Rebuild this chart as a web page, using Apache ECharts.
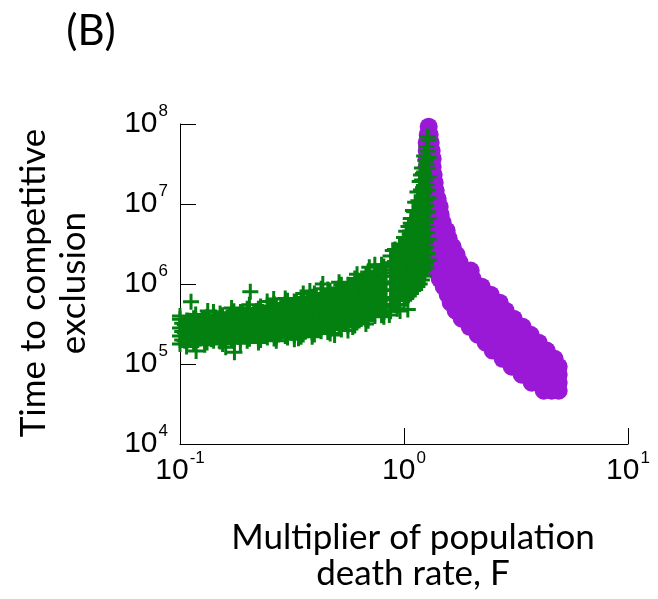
<!DOCTYPE html>
<html>
<head>
<meta charset="utf-8">
<script src="https://cdn.jsdelivr.net/npm/echarts@6/dist/echarts.min.js"></script>
<style>
  html, body { margin: 0; padding: 0; background: #fff; }
  #chart { width: 658px; height: 599px; }
</style>
</head>
<body>
<div id="chart"></div>
<script>
// Time to competitive exclusion vs. death-rate multiplier F (log-log)

const panelLabel = '(B)';
const xTitle = ['Multiplier of population', 'death rate, F'];
const yTitle = ['Time to competitive', 'exclusion'];
const xTickExps = [-1, 0, 1];
const yTickExps = [4, 5, 6, 7, 8];

// Runs where F is below the crossover (plus markers): [F, time]
const belowCrossover = [
  [0.100, 1.78e5], [0.100, 2.24e5], [0.100, 2.82e5], [0.100, 3.63e5],
  [0.105, 1.95e5], [0.105, 2.45e5], [0.105, 3.09e5],
  [0.110, 2.14e5], [0.110, 2.69e5], [0.110, 3.47e5],
  [0.115, 1.82e5], [0.115, 2.29e5], [0.115, 2.88e5], [0.115, 3.72e5],
  [0.120, 2.00e5], [0.120, 2.51e5], [0.120, 3.24e5],
  [0.126, 2.19e5], [0.126, 2.75e5], [0.126, 3.55e5],
  [0.132, 1.86e5], [0.132, 2.40e5], [0.132, 3.02e5], [0.132, 3.89e5],
  [0.138, 2.04e5], [0.138, 2.63e5], [0.138, 3.39e5],
  [0.1445, 2.24e5], [0.1445, 2.95e5], [0.1445, 3.80e5],
  [0.151, 1.91e5], [0.151, 2.51e5], [0.151, 3.24e5], [0.151, 4.27e5],
  [0.1585, 2.09e5], [0.1585, 2.75e5], [0.1585, 3.63e5],
  [0.166, 2.29e5], [0.166, 3.02e5], [0.166, 4.07e5],
  [0.174, 1.95e5], [0.174, 2.57e5], [0.174, 3.39e5], [0.174, 4.57e5],
  [0.182, 2.19e5], [0.182, 2.88e5], [0.182, 3.89e5],
  [0.1905, 2.40e5], [0.1905, 3.16e5], [0.1905, 4.37e5],
  [0.1995, 1.95e5], [0.1995, 2.63e5], [0.1995, 3.55e5], [0.1995, 4.90e5],
  [0.209, 2.24e5], [0.209, 3.02e5], [0.209, 4.07e5],
  [0.219, 2.45e5], [0.219, 3.39e5], [0.219, 4.57e5],
  [0.229, 2.00e5], [0.229, 2.75e5], [0.229, 3.80e5], [0.229, 5.25e5],
  [0.240, 2.29e5], [0.240, 3.16e5], [0.240, 4.37e5],
  [0.251, 2.51e5], [0.251, 3.55e5], [0.251, 4.90e5],
  [0.263, 2.09e5], [0.263, 2.88e5], [0.263, 3.98e5], [0.263, 5.62e5],
  [0.275, 2.34e5], [0.275, 3.31e5], [0.275, 4.57e5],
  [0.288, 2.69e5], [0.288, 3.72e5], [0.288, 5.25e5],
  [0.302, 2.14e5], [0.302, 3.02e5], [0.302, 4.27e5], [0.302, 6.17e5],
  [0.316, 2.45e5], [0.316, 3.47e5], [0.316, 5.01e5],
  [0.331, 2.82e5], [0.331, 3.98e5], [0.331, 5.89e5],
  [0.347, 2.19e5], [0.347, 3.16e5], [0.347, 4.57e5], [0.347, 6.76e5],
  [0.363, 2.57e5], [0.363, 3.80e5], [0.363, 5.50e5],
  [0.380, 2.95e5], [0.380, 4.37e5], [0.380, 6.46e5],
  [0.398, 2.34e5], [0.398, 3.47e5], [0.398, 5.13e5], [0.398, 7.59e5],
  [0.417, 2.75e5], [0.417, 4.07e5], [0.417, 6.17e5],
  [0.4365, 3.16e5], [0.4365, 4.79e5], [0.4365, 7.08e5],
  [0.457, 2.51e5], [0.457, 3.72e5], [0.457, 5.62e5], [0.457, 8.51e5],
  [0.479, 2.95e5], [0.479, 4.47e5], [0.479, 6.76e5],
  [0.501, 3.47e5], [0.501, 5.25e5], [0.501, 8.13e5],
  [0.525, 2.69e5], [0.525, 4.17e5], [0.525, 6.31e5], [0.525, 9.77e5],
  [0.5495, 3.24e5], [0.5495, 5.01e5], [0.5495, 7.59e5],
  [0.575, 3.89e5], [0.575, 6.03e5], [0.575, 9.55e5],
  [0.603, 3.02e5], [0.603, 4.79e5], [0.603, 7.41e5], [0.603, 1.17e6],
  [0.631, 3.72e5], [0.631, 5.89e5], [0.631, 9.12e5],
  [0.661, 4.47e5], [0.661, 7.08e5], [0.661, 1.12e6],
  [0.692, 3.47e5], [0.692, 5.50e5], [0.692, 8.71e5], [0.692, 1.41e6],
  [0.724, 4.27e5], [0.724, 6.92e5], [0.724, 1.10e6],
  [0.759, 5.25e5], [0.759, 8.51e5], [0.759, 1.38e6],
  [0.794, 4.07e5], [0.794, 6.61e5], [0.794, 1.07e6], [0.794, 1.74e6],
  [0.832, 5.13e5], [0.832, 8.32e5], [0.832, 1.38e6],
  [0.871, 4.57e5], [0.871, 6.76e5], [0.871, 1.00e6], [0.871, 1.51e6], [0.871, 2.24e6],
  [0.890, 5.60e5], [0.890, 8.50e5], [0.890, 1.25e6], [0.890, 1.85e6],
  [0.912, 5.50e5], [0.912, 8.32e5], [0.912, 1.26e6], [0.912, 1.91e6], [0.912, 2.69e6],
  [0.935, 6.50e5], [0.935, 1.00e6], [0.935, 1.60e6], [0.935, 2.30e6],
  [0.955, 5.50e5], [0.955, 8.51e5], [0.955, 1.32e6], [0.955, 2.04e6], [0.955, 3.16e6],
  [0.980, 7.50e5], [0.980, 1.20e6], [0.980, 1.90e6], [0.980, 3.00e6],
  [1.000, 6.31e5], [1.000, 1.00e6], [1.000, 1.58e6], [1.000, 2.51e6], [1.000, 3.80e6],
  [1.023, 6.61e5], [1.023, 1.10e6], [1.023, 1.82e6], [1.023, 2.88e6], [1.023, 4.57e6],
  [1.035, 8.60e5], [1.035, 1.40e6], [1.035, 2.30e6], [1.035, 3.70e6],
  [1.047, 7.24e5], [1.047, 1.20e6], [1.047, 2.00e6], [1.047, 3.31e6], [1.047, 5.25e6],
  [1.060, 9.60e5], [1.060, 1.60e6], [1.060, 2.60e6], [1.060, 4.20e6],
  [1.072, 7.59e5], [1.072, 1.26e6], [1.072, 2.09e6], [1.072, 3.47e6], [1.072, 5.75e6], [1.072, 6.61e6],
  [1.096, 8.32e5], [1.096, 1.32e6], [1.096, 2.09e6], [1.096, 3.31e6], [1.096, 5.25e6], [1.096, 8.32e6],
  [1.110, 1.10e6], [1.110, 1.90e6], [1.110, 3.00e6], [1.110, 5.00e6], [1.110, 8.00e6],
  [1.122, 8.51e5], [1.122, 1.38e6], [1.122, 2.29e6], [1.122, 3.80e6], [1.122, 6.31e6], [1.122, 1.05e7],
  [1.148, 9.33e5], [1.148, 1.58e6], [1.148, 2.75e6], [1.148, 4.79e6], [1.148, 8.32e6], [1.148, 1.41e7],
  [1.160, 1.20e6], [1.160, 2.10e6], [1.160, 3.70e6], [1.160, 6.40e6], [1.160, 1.10e7],
  [1.175, 1.00e6], [1.175, 1.74e6], [1.175, 3.16e6], [1.175, 5.75e6], [1.175, 1.05e7], [1.175, 1.91e7],
  [1.190, 1.40e6], [1.190, 2.50e6], [1.190, 4.40e6], [1.190, 8.00e6], [1.190, 1.50e7], [1.190, 2.30e7],
  [1.202, 1.12e6], [1.202, 2.00e6], [1.202, 3.63e6], [1.202, 6.61e6], [1.202, 1.20e7], [1.202, 2.00e7], [1.202, 2.82e7],
  [1.216, 1.50e6], [1.216, 2.70e6], [1.216, 4.90e6], [1.216, 9.00e6], [1.216, 1.60e7], [1.216, 2.40e7],
  [1.230, 1.26e6], [1.230, 2.29e6], [1.230, 4.17e6], [1.230, 7.59e6], [1.230, 1.38e7], [1.230, 2.51e7], [1.230, 3.98e7],
  [1.245, 1.80e6], [1.245, 3.30e6], [1.245, 6.00e6], [1.245, 1.10e7], [1.245, 2.00e7], [1.245, 3.50e7],
  [1.259, 1.58e6], [1.259, 2.88e6], [1.259, 5.25e6], [1.259, 9.55e6], [1.259, 1.74e7], [1.259, 3.16e7], [1.259, 5.25e7],
  [1.274, 2.40e6], [1.274, 4.40e6], [1.274, 8.00e6], [1.274, 1.50e7], [1.274, 2.80e7], [1.274, 4.60e7], [1.274, 7.00e7],
  [1.288, 2.00e6], [1.288, 3.63e6], [1.288, 6.61e6], [1.288, 1.20e7], [1.288, 2.19e7], [1.288, 3.80e7], [1.288, 6.31e7],
  // runs in between, filling the body of the band
  [0.1023, 2.00e5], [0.1023, 2.54e5], [0.1023, 3.24e5],
  [0.1072, 1.86e5], [0.1072, 2.19e5], [0.1072, 2.79e5], [0.1072, 3.51e5],
  [0.1122, 2.04e5], [0.1122, 2.60e5], [0.1122, 3.31e5],
  [0.1175, 1.89e5], [0.1175, 2.23e5], [0.1175, 2.83e5], [0.1175, 3.60e5],
  [0.1230, 2.09e5], [0.1230, 2.63e5], [0.1230, 3.39e5],
  [0.1288, 1.93e5], [0.1288, 2.28e5], [0.1288, 2.90e5], [0.1288, 3.68e5],
  [0.1349, 2.11e5], [0.1349, 2.69e5], [0.1349, 3.47e5],
  [0.1413, 1.95e5], [0.1413, 2.34e5], [0.1413, 3.02e5], [0.1413, 3.89e5],
  [0.1479, 2.19e5], [0.1479, 2.82e5], [0.1479, 3.67e5],
  [0.1549, 2.00e5], [0.1549, 2.40e5], [0.1549, 3.16e5], [0.1549, 4.07e5],
  [0.1622, 2.19e5], [0.1622, 2.88e5], [0.1622, 3.80e5],
  [0.1698, 2.00e5], [0.1698, 2.45e5], [0.1698, 3.24e5], [0.1698, 4.27e5],
  [0.1778, 2.24e5], [0.1778, 3.02e5], [0.1778, 3.98e5],
  [0.1862, 2.04e5], [0.1862, 2.51e5], [0.1862, 3.35e5], [0.1862, 4.47e5],
  [0.1950, 2.29e5], [0.1950, 3.09e5], [0.1950, 4.17e5],
  [0.2042, 2.07e5], [0.2042, 2.57e5], [0.2042, 3.47e5], [0.2042, 4.68e5],
  [0.2138, 2.34e5], [0.2138, 3.16e5], [0.2138, 4.37e5],
  [0.2239, 2.09e5], [0.2239, 2.63e5], [0.2239, 3.55e5], [0.2239, 4.90e5],
  [0.2344, 2.40e5], [0.2344, 3.27e5], [0.2344, 4.47e5],
  [0.2455, 2.14e5], [0.2455, 2.69e5], [0.2455, 3.72e5], [0.2455, 5.13e5],
  [0.2570, 2.45e5], [0.2570, 3.39e5], [0.2570, 4.68e5],
  [0.2692, 2.19e5], [0.2692, 2.75e5], [0.2692, 3.85e5], [0.2692, 5.37e5],
  [0.2818, 2.51e5], [0.2818, 3.51e5], [0.2818, 4.90e5],
  [0.2951, 2.24e5], [0.2951, 2.85e5], [0.2951, 4.03e5], [0.2951, 5.69e5],
  [0.3090, 2.57e5], [0.3090, 3.63e5], [0.3090, 5.19e5],
  [0.3236, 2.29e5], [0.3236, 2.95e5], [0.3236, 4.22e5], [0.3236, 6.03e5],
  [0.3388, 2.63e5], [0.3388, 3.80e5], [0.3388, 5.50e5],
  [0.3548, 2.34e5], [0.3548, 3.05e5], [0.3548, 4.44e5], [0.3548, 6.46e5],
  [0.3715, 2.75e5], [0.3715, 4.03e5], [0.3715, 5.89e5],
  [0.3890, 2.45e5], [0.3890, 3.20e5], [0.3890, 4.68e5], [0.3890, 6.92e5],
  [0.4074, 2.88e5], [0.4074, 4.27e5], [0.4074, 6.31e5],
  [0.4266, 2.57e5], [0.4266, 3.39e5], [0.4266, 5.01e5], [0.4266, 7.50e5],
  [0.4467, 3.02e5], [0.4467, 4.57e5], [0.4467, 6.76e5],
  [0.4677, 2.69e5], [0.4677, 3.59e5], [0.4677, 5.37e5], [0.4677, 8.13e5],
  [0.4898, 3.24e5], [0.4898, 4.90e5], [0.4898, 7.41e5],
  [0.5129, 2.82e5], [0.5129, 3.80e5], [0.5129, 5.82e5], [0.5129, 8.91e5],
  [0.5370, 3.39e5], [0.5370, 5.25e5], [0.5370, 7.94e5],
  [0.5623, 3.02e5], [0.5623, 4.07e5], [0.5623, 6.31e5], [0.5623, 9.77e5],
  [0.5888, 3.72e5], [0.5888, 5.75e5], [0.5888, 9.02e5],
  [0.6166, 3.31e5], [0.6166, 4.52e5], [0.6166, 7.08e5], [0.6166, 1.11e6],
  [0.6457, 4.07e5], [0.6457, 6.46e5], [0.6457, 1.01e6],
  [0.6761, 3.63e5], [0.6761, 5.01e5], [0.6761, 7.94e5], [0.6761, 1.26e6],
  [0.7079, 4.52e5], [0.7079, 7.24e5], [0.7079, 1.15e6],
  [0.7413, 3.98e5], [0.7413, 5.56e5], [0.7413, 8.91e5], [0.7413, 1.45e6],
  [0.7762, 5.01e5], [0.7762, 8.13e5], [0.7762, 1.32e6],
  [0.8128, 4.47e5], [0.8128, 6.31e5], [0.8128, 1.02e6], [0.8128, 1.66e6],
  // scattered runs along the upper and lower edges of the band
  [0.100, 3.98e5], [0.107, 1.66e5], [0.1175, 4.17e5], [0.129, 1.74e5], [0.141, 4.47e5],
  [0.155, 1.78e5], [0.170, 5.01e5], [0.186, 1.82e5], [0.204, 5.50e5], [0.224, 1.86e5],
  [0.245, 6.03e5], [0.269, 1.95e5], [0.295, 6.61e5], [0.324, 2.04e5], [0.355, 7.59e5],
  [0.389, 2.19e5], [0.427, 8.71e5], [0.468, 2.40e5], [0.513, 1.05e6], [0.562, 2.63e5],
  [0.617, 1.32e6], [0.676, 3.16e5], [0.741, 1.74e6], [0.813, 3.89e5], [0.891, 2.63e6],
  [0.933, 4.90e5],
  [0.097, 4.2e5], [0.133, 4.6e5], [0.160, 1.62e5], [0.262, 6.5e5], [0.338, 2.1e5],
  [0.380, 8.2e5], [0.590, 2.9e5], [0.700, 1.62e6], [0.860, 4.1e5], [0.960, 4.6e5],
  [0.112, 6.0e5], [0.118, 1.45e5], [0.175, 1.40e5], [0.206, 8.0e5],
  [0.434, 1.0e6], [0.490, 2.3e5], [1.040, 4.8e5]
];

// Runs where F is above the crossover (filled circles): [F, time]
const aboveCrossover = [
  [1.289, 9.25e7],
  [1.276, 7.35e7], [1.302, 7.35e7],
  [1.263, 5.84e7], [1.316, 5.84e7],
  [1.263, 4.64e7], [1.329, 4.64e7],
  [1.263, 3.68e7], [1.343, 3.68e7],
  [1.263, 2.92e7], [1.343, 2.92e7],
  [1.263, 2.32e7], [1.357, 2.32e7],
  [1.263, 1.85e7], [1.371, 1.85e7],
  [1.263, 1.47e7], [1.385, 1.47e7],
  [1.263, 1.16e7], [1.329, 1.16e7], [1.414, 1.16e7],
  [1.276, 9.25e6], [1.357, 9.25e6], [1.443, 9.25e6],
  [1.276, 7.35e6], [1.371, 7.35e6], [1.458, 7.35e6],
  [1.276, 5.84e6], [1.371, 5.84e6], [1.489, 5.84e6],
  [1.276, 4.64e6], [1.400, 4.64e6], [1.551, 4.64e6],
  [1.289, 3.68e6], [1.428, 3.68e6], [1.584, 3.68e6],
  [1.302, 2.92e6], [1.458, 2.92e6], [1.650, 2.92e6],
  [1.316, 2.32e6], [1.428, 2.32e6], [1.567, 2.32e6], [1.719, 2.32e6],
  [1.343, 1.85e6], [1.473, 1.85e6], [1.616, 1.85e6], [1.773, 1.85e6],
  [1.385, 1.47e6], [1.519, 1.47e6], [1.667, 1.47e6], [1.829, 1.47e6], [1.985, 1.47e6],
  [1.443, 1.16e6], [1.584, 1.16e6], [1.737, 1.16e6], [1.905, 1.16e6], [2.026, 1.16e6],
  [1.504, 9.25e5], [1.650, 9.25e5], [1.810, 9.25e5], [2.005, 9.25e5], [2.223, 9.25e5],
  [1.567, 7.35e5], [1.719, 7.35e5], [1.905, 7.35e5], [2.156, 7.35e5], [2.438, 7.35e5],
  [1.616, 5.84e5], [1.791, 5.84e5], [1.985, 5.84e5], [2.200, 5.84e5], [2.438, 5.84e5], [2.675, 5.84e5],
  [1.701, 4.64e5], [1.886, 4.64e5], [2.089, 4.64e5], [2.316, 4.64e5], [2.567, 4.64e5], [2.844, 4.64e5],
  [1.810, 3.68e5], [2.005, 3.68e5], [2.223, 3.68e5], [2.489, 3.68e5], [2.787, 3.68e5], [3.088, 3.68e5],
  [1.965, 2.92e5], [2.200, 2.92e5], [2.438, 2.92e5], [2.730, 2.92e5], [3.057, 2.92e5], [3.388, 2.92e5],
  [2.133, 2.32e5], [2.389, 2.32e5], [2.648, 2.32e5], [2.964, 2.32e5], [3.319, 2.32e5], [3.679, 2.32e5],
  [2.316, 1.85e5], [2.593, 1.85e5], [2.874, 1.85e5], [3.218, 1.85e5], [3.567, 1.85e5], [3.994, 1.85e5],
  [2.489, 1.47e5], [2.787, 1.47e5], [3.120, 1.47e5], [3.458, 1.47e5], [3.872, 1.47e5], [4.336, 1.47e5],
  [2.758, 1.16e5], [3.057, 1.16e5], [3.423, 1.16e5], [3.793, 1.16e5], [4.248, 1.16e5], [4.707, 1.16e5],
  [3.025, 9.25e4], [3.353, 9.25e4], [3.679, 9.25e4], [4.077, 9.25e4], [4.472, 9.25e4], [4.905, 9.25e4],
  [3.353, 7.35e4], [3.679, 7.35e4], [4.077, 7.35e4], [4.472, 7.35e4], [4.905, 7.35e4],
  [3.717, 5.84e4], [4.077, 5.84e4], [4.472, 5.84e4], [4.905, 5.84e4],
  [4.205, 4.64e4], [4.565, 4.64e4], [4.905, 4.64e4]
];

const GREEN = '#038010';
const PURPLE = '#9a19d6';
const TICK_FONT = 'Liberation Sans';
const TITLE_FONT = 'Lato';
const BASE_SIZE = 30;
const EXP_SIZE = 17;

// plus sign built as a filled outline so the arms keep a fixed thickness
const PLUS = 'path://M6.5,0H9.5V6.5H16V9.5H9.5V16H6.5V9.5H0V6.5H6.5Z';

const measureCtx = document.createElement('canvas').getContext('2d');
function textWidth(str, size) {
  measureCtx.font = size + 'px "' + TICK_FONT + '"';
  return measureCtx.measureText(str).width;
}

function textEl(x, y, str, size, align) {
  return {
    type: 'text', x: x, y: y, silent: true,
    style: { text: str, fontFamily: TICK_FONT, fontSize: size, fill: '#000', align: align, verticalAlign: 'middle' }
  };
}

const chart = echarts.init(document.getElementById('chart'), null, { renderer: 'canvas' });

chart.setOption({
  animation: false,
  backgroundColor: '#fff',
  grid: { left: 180, right: 30, top: 124, bottom: 155 },
  xAxis: {
    type: 'log',
    logBase: 10,
    min: 0.1,
    max: 10,
    splitNumber: 2,
    axisLine: { show: true, onZero: false, lineStyle: { color: '#000', width: 1 } },
    axisTick: { show: true, inside: true, length: 16, lineStyle: { color: '#000', width: 1 } },
    splitLine: { show: false },
    minorTick: { show: false },
    axisLabel: { show: false }
  },
  yAxis: {
    type: 'log',
    logBase: 10,
    min: 1e4,
    max: 1e8,
    splitNumber: 4,
    axisLine: { show: true, onZero: false, lineStyle: { color: '#000', width: 1 } },
    axisTick: { show: true, inside: true, length: 16, lineStyle: { color: '#000', width: 1 } },
    splitLine: { show: false },
    minorTick: { show: false },
    axisLabel: { show: false }
  },
  series: [
    {
      type: 'scatter',
      data: aboveCrossover,
      symbol: 'circle',
      symbolSize: 18,
      itemStyle: { color: PURPLE, opacity: 1 },
      silent: true
    },
    {
      type: 'scatter',
      data: belowCrossover,
      symbol: PLUS,
      symbolSize: 16,
      itemStyle: { color: GREEN, opacity: 1 },
      silent: true
    }
  ]
});

// Power-of-ten tick labels, placed at the axis positions of each decade
const labels = [];
const xAxisY = chart.convertToPixel({ yAxisIndex: 0 }, 1e4);
const yAxisX = chart.convertToPixel({ xAxisIndex: 0 }, 0.1);

xTickExps.forEach(function (e) {
  const px = chart.convertToPixel({ xAxisIndex: 0 }, Math.pow(10, e));
  const expStr = String(e);
  const wBase = textWidth('10', BASE_SIZE);
  const wExp = textWidth(expStr, EXP_SIZE);
  const left = px - (wBase + 1 + wExp) / 2;
  const cy = xAxisY + 27;
  labels.push(textEl(left, cy, '10', BASE_SIZE, 'left'));
  labels.push(textEl(left + wBase + 1, cy - 13, expStr, EXP_SIZE, 'left'));
});

yTickExps.forEach(function (e) {
  const py = chart.convertToPixel({ yAxisIndex: 0 }, Math.pow(10, e));
  const expStr = String(e);
  const right = yAxisX - 12;
  const wExp = textWidth(expStr, EXP_SIZE);
  labels.push(textEl(right, py - 13, expStr, EXP_SIZE, 'right'));
  labels.push(textEl(right - wExp - 1, py, '10', BASE_SIZE, 'right'));
});

chart.setOption({
  graphic: labels.concat([
    {
      type: 'text', x: 91, y: 31,
      style: { text: panelLabel, fontFamily: TITLE_FONT, fontSize: 42, fill: '#000', align: 'center', verticalAlign: 'middle' }
    },
    {
      type: 'text', x: 413, y: 556,
      style: { text: xTitle.join('\n'), fontFamily: TITLE_FONT, fontSize: 35, lineHeight: 36, fill: '#000', align: 'center', verticalAlign: 'middle' }
    },
    {
      type: 'text', x: 54, y: 283, rotation: Math.PI / 2,
      style: { text: yTitle.join('\n'), fontFamily: TITLE_FONT, fontSize: 35, lineHeight: 40, fill: '#000', align: 'center', verticalAlign: 'middle' }
    }
  ])
});
</script>
</body>
</html>
